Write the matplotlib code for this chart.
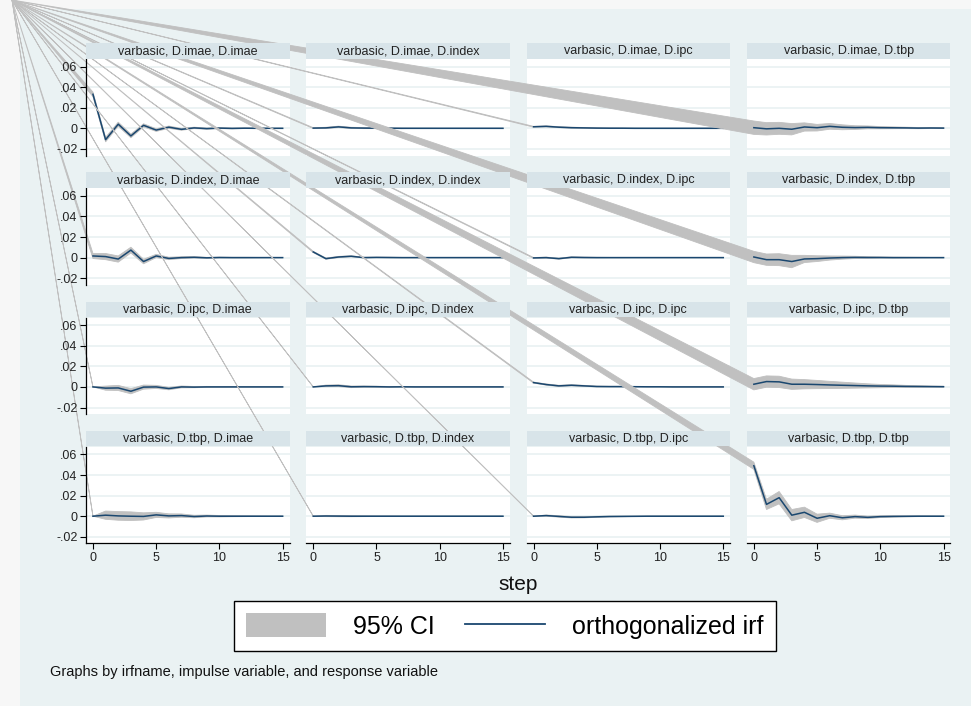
import matplotlib
matplotlib.use('Agg')
import matplotlib.pyplot as plt
from matplotlib.patches import Patch, Rectangle
from matplotlib.lines import Line2D
import numpy as np

plt.rcParams['font.family'] = ['Liberation Sans', 'DejaVu Sans']

# steps and variable names (impulse = row, response = column)
steps = np.arange(16)
variables = ['D.imae', 'D.index', 'D.ipc', 'D.tbp']
irfname = 'varbasic'

# orthogonalized irf
irf_imae_imae = [0.0330, -0.0110, 0.0040, -0.0074, 0.0029, -0.0017, 0.0011, -0.0010, 0.0004, -0.0003, 0.0002, -0.0001, 0.0001, 0.0, 0.0, 0.0]
irf_imae_index = [0.0002, 0.0004, 0.0014, 0.0004, 0.0002, 0.0001, 0.0001, 0.0, 0.0, 0.0, 0.0, 0.0, 0.0, 0.0, 0.0, 0.0]
irf_imae_ipc = [0.0015, 0.0019, 0.0011, 0.0006, 0.0004, 0.0002, 0.0001, 0.0001, 0.0, 0.0, 0.0, 0.0, 0.0, 0.0, 0.0, 0.0]
irf_imae_tbp = [0.0006, -0.0005, 0.0000, -0.0009, 0.0013, 0.0006, 0.0019, 0.0010, 0.0007, 0.0009, 0.0006, 0.0005, 0.0004, 0.0002, 0.0003, 0.0002]

irf_index_imae = [0.0016, 0.0010, -0.0014, 0.0073, -0.0038, 0.0016, -0.0008, 0.0000, 0.0003, -0.0002, 0.0001, 0.0, 0.0, 0.0, 0.0, 0.0]
irf_index_index = [0.0055, -0.0010, 0.0006, 0.0013, 0.0000, 0.0002, 0.0001, 0.0, 0.0, 0.0, 0.0, 0.0, 0.0, 0.0, 0.0, 0.0]
irf_index_ipc = [-0.0003, 0.0000, -0.0010, 0.0003, 0.0001, 0.0, 0.0, 0.0, 0.0, 0.0, 0.0, 0.0, 0.0, 0.0, 0.0, 0.0]
irf_index_tbp = [0.0006, -0.0020, -0.0020, -0.0038, -0.0013, -0.0010, -0.0004, 0.0000, 0.0002, 0.0001, 0.0001, 0.0, 0.0, 0.0, 0.0, 0.0]

irf_ipc_imae = [0.0000, -0.0012, -0.0010, -0.0042, -0.0002, 0.0000, -0.0016, 0.0000, -0.0002, 0.0, 0.0, 0.0, 0.0, 0.0, 0.0, 0.0]
irf_ipc_index = [0.0000, 0.0010, 0.0012, 0.0001, 0.0003, 0.0002, 0.0000, 0.0001, 0.0, 0.0, 0.0, 0.0, 0.0, 0.0, 0.0, 0.0]
irf_ipc_ipc = [0.0042, 0.0023, 0.0010, 0.0016, 0.0010, 0.0004, 0.0003, 0.0003, 0.0002, 0.0001, 0.0001, 0.0, 0.0, 0.0, 0.0, 0.0]
irf_ipc_tbp = [0.0026, 0.0052, 0.0049, 0.0026, 0.0026, 0.0023, 0.0019, 0.0016, 0.0013, 0.0010, 0.0008, 0.0007, 0.0005, 0.0004, 0.0003, 0.0002]

irf_tbp_imae = [0.0000, 0.0010, 0.0003, 0.0000, -0.0002, 0.0013, 0.0003, 0.0006, -0.0003, 0.0002, 0.0, 0.0, 0.0, 0.0, 0.0, 0.0]
irf_tbp_index = [0.0000, 0.0002, 0.0001, 0.0, 0.0, 0.0, 0.0, 0.0, 0.0, 0.0, 0.0, 0.0, 0.0, 0.0, 0.0, 0.0]
irf_tbp_ipc = [0.0000, 0.0006, -0.0002, -0.0010, -0.0010, -0.0006, -0.0003, -0.0002, -0.0001, 0.0, 0.0, 0.0, 0.0, 0.0, 0.0, 0.0]
irf_tbp_tbp = [0.0490, 0.0115, 0.0180, 0.0010, 0.0038, -0.0020, 0.0005, -0.0015, -0.0004, -0.0011, -0.0004, -0.0002, -0.0001, 0.0, 0.0, 0.0]

# half width of the 95% CI
ci_imae_imae = [0.0022, 0.0022, 0.0020, 0.0018, 0.0015, 0.0013, 0.0011, 0.0009, 0.0007, 0.0006, 0.0005, 0.0004, 0.0003, 0.0003, 0.0002, 0.0002]
ci_imae_index = [0.0004, 0.0006, 0.0007, 0.0006, 0.0005, 0.0004, 0.0003, 0.0003, 0.0002, 0.0002, 0.0001, 0.0001, 0.0001, 0.0001, 0.0001, 0.0001]
ci_imae_ipc = [0.0004, 0.0005, 0.0005, 0.0005, 0.0004, 0.0003, 0.0003, 0.0002, 0.0002, 0.0001, 0.0001, 0.0001, 0.0001, 0.0001, 0.0001, 0.0001]
ci_imae_tbp = [0.0065, 0.0060, 0.0058, 0.0055, 0.0040, 0.0032, 0.0028, 0.0024, 0.0018, 0.0014, 0.0011, 0.0009, 0.0007, 0.0006, 0.0005, 0.0004]

ci_index_imae = [0.0025, 0.0030, 0.0030, 0.0028, 0.0022, 0.0016, 0.0012, 0.0009, 0.0007, 0.0005, 0.0004, 0.0003, 0.0003, 0.0002, 0.0002, 0.0001]
ci_index_index = [0.0006, 0.0006, 0.0006, 0.0005, 0.0004, 0.0003, 0.0003, 0.0002, 0.0002, 0.0001, 0.0001, 0.0001, 0.0001, 0.0001, 0.0001, 0.0001]
ci_index_ipc = [0.0004, 0.0005, 0.0005, 0.0005, 0.0004, 0.0003, 0.0002, 0.0002, 0.0001, 0.0001, 0.0001, 0.0001, 0.0001, 0.0001, 0.0001, 0.0001]
ci_index_tbp = [0.0055, 0.0055, 0.0058, 0.0060, 0.0035, 0.0028, 0.0020, 0.0015, 0.0011, 0.0008, 0.0006, 0.0005, 0.0004, 0.0003, 0.0002, 0.0002]

ci_ipc_imae = [0.0000, 0.0020, 0.0025, 0.0025, 0.0020, 0.0015, 0.0012, 0.0009, 0.0006, 0.0005, 0.0004, 0.0003, 0.0002, 0.0002, 0.0001, 0.0001]
ci_ipc_index = [0.0000, 0.0008, 0.0009, 0.0008, 0.0006, 0.0005, 0.0004, 0.0003, 0.0002, 0.0002, 0.0001, 0.0001, 0.0001, 0.0001, 0.0001, 0.0001]
ci_ipc_ipc = [0.0005, 0.0006, 0.0006, 0.0006, 0.0005, 0.0004, 0.0003, 0.0003, 0.0002, 0.0002, 0.0001, 0.0001, 0.0001, 0.0001, 0.0001, 0.0001]
ci_ipc_tbp = [0.0055, 0.0055, 0.0055, 0.0050, 0.0045, 0.0040, 0.0035, 0.0030, 0.0025, 0.0020, 0.0016, 0.0013, 0.0010, 0.0008, 0.0006, 0.0005]

ci_tbp_imae = [0.0000, 0.0040, 0.0042, 0.0042, 0.0035, 0.0025, 0.0020, 0.0016, 0.0012, 0.0009, 0.0007, 0.0005, 0.0004, 0.0003, 0.0002, 0.0002]
ci_tbp_index = [0.0000, 0.0006, 0.0006, 0.0005, 0.0004, 0.0003, 0.0003, 0.0002, 0.0002, 0.0001, 0.0001, 0.0001, 0.0001, 0.0001, 0.0001, 0.0001]
ci_tbp_ipc = [0.0000, 0.0006, 0.0007, 0.0007, 0.0006, 0.0005, 0.0004, 0.0003, 0.0002, 0.0002, 0.0001, 0.0001, 0.0001, 0.0001, 0.0001, 0.0001]
ci_tbp_tbp = [0.0035, 0.0050, 0.0060, 0.0055, 0.0050, 0.0040, 0.0025, 0.0020, 0.0015, 0.0012, 0.0009, 0.0007, 0.0005, 0.0004, 0.0003, 0.0002]

irfs = [
    [irf_imae_imae, irf_imae_index, irf_imae_ipc, irf_imae_tbp],
    [irf_index_imae, irf_index_index, irf_index_ipc, irf_index_tbp],
    [irf_ipc_imae, irf_ipc_index, irf_ipc_ipc, irf_ipc_tbp],
    [irf_tbp_imae, irf_tbp_index, irf_tbp_ipc, irf_tbp_tbp],
]
cis = [
    [ci_imae_imae, ci_imae_index, ci_imae_ipc, ci_imae_tbp],
    [ci_index_imae, ci_index_index, ci_index_ipc, ci_index_tbp],
    [ci_ipc_imae, ci_ipc_index, ci_ipc_ipc, ci_ipc_tbp],
    [ci_tbp_imae, ci_tbp_index, ci_tbp_ipc, ci_tbp_tbp],
]

yticks = [-0.02, 0, 0.02, 0.04, 0.06]
yticklabels = ['-.02', '0', '.02', '.04', '.06']
xticks = [0, 5, 10, 15]

# stata s2color look
BG = '#eaf2f3'
STRIP = '#d8e4e9'
CI_COL = '#c0c0c0'
LINE_COL = '#1a476f'

W, H = 971, 706
XLIM = (-0.55, 15.54)
YLIM = (-0.0264, 0.0673)


def fx(px):
    return px / W


def fy(py):
    return 1 - py / H


fig = plt.figure(figsize=(W / 100, H / 100), dpi=100, facecolor='#f7f7f7')
fig.patches.append(Rectangle((fx(20), 0), 1 - fx(20), fy(9), transform=fig.transFigure,
                             facecolor=BG, edgecolor='none', zorder=-1))

# the area polygons all start from the top-left corner (export glitch)
corner = fig.transFigure.transform((fx(12), fy(0)))

for r in range(4):
    for c in range(4):
        left = 86 + 220.3 * c
        top = 43 + 129.3 * r
        pw = 203.5
        rect = [fx(left), fy(top + 112.5), pw / W, 96.5 / H]

        # data panel
        ax = fig.add_axes(rect)
        ax.set_xlim(*XLIM)
        ax.set_ylim(*YLIM)
        ax.set_facecolor('white')
        ax.set_yticks(yticks)
        ax.set_xticks(xticks)
        ax.grid(axis='y', color=BG, lw=1.3)
        ax.set_axisbelow(True)
        ax.tick_params(left=False, bottom=False, labelleft=False, labelbottom=False)
        for s in ax.spines.values():
            s.set_visible(False)

        y = np.array(irfs[r][c])
        h = np.array(cis[r][c])
        lo, hi = y - h, y + h
        cx, cy = ax.transData.inverted().transform(corner)
        xs = np.concatenate([[cx], steps, steps[::-1], [cx]])
        ys = np.concatenate([[cy], lo, hi[::-1], [cy]])
        ax.fill(xs, ys, color=CI_COL, lw=0.6, clip_on=False, zorder=2)
        ax.plot(steps, y, color=LINE_COL, lw=1.1, zorder=3)

        # axes drawn over the data of all panels
        dax = fig.add_axes(rect, zorder=5)
        dax.patch.set_visible(False)
        dax.set_xlim(*XLIM)
        dax.set_ylim(*YLIM)
        dax.set_yticks(yticks)
        dax.set_xticks(xticks)
        for s in dax.spines.values():
            s.set_visible(False)
        if c == 0:
            dax.spines['left'].set_visible(True)
            dax.spines['left'].set_linewidth(0.9)
            dax.set_yticklabels(yticklabels)
            dax.tick_params(axis='y', length=4, width=0.8, pad=2, labelsize=9, labelcolor='#222222')
        else:
            dax.tick_params(axis='y', left=False, labelleft=False)
        if r == 3:
            dax.spines['bottom'].set_visible(True)
            dax.spines['bottom'].set_linewidth(0.9)
            dax.tick_params(axis='x', length=4, width=0.8, pad=2, labelsize=9, labelcolor='#222222')
        else:
            dax.tick_params(axis='x', bottom=False, labelbottom=False)

        # subtitle strip
        sax = fig.add_axes([fx(left), fy(top + 15.5), pw / W, 15.5 / H], zorder=10)
        sax.set_facecolor(STRIP)
        sax.set_xticks([])
        sax.set_yticks([])
        for s in sax.spines.values():
            s.set_visible(False)
        sax.text(0.5, 0.48, f'{irfname}, {variables[r]}, {variables[c]}',
                 ha='center', va='center', fontsize=9, color='#222222')

fig.text(fx(518), fy(585), 'step', ha='center', va='center', fontsize=15, color='#111111')

handles = [Patch(facecolor=CI_COL, edgecolor='none', label='95% CI'),
           Line2D([], [], color=LINE_COL, lw=1.3, label='orthogonalized irf')]
leg = fig.legend(handles=handles, loc='center', bbox_to_anchor=(fx(505), fy(626)), ncol=2,
                 fontsize=18, frameon=True, fancybox=False, edgecolor='black', facecolor='white',
                 framealpha=1, handlelength=3.2, handleheight=1.05, handletextpad=1.08,
                 columnspacing=1.2, borderpad=0.5)
leg.get_frame().set_linewidth(1.0)

fig.text(fx(50), fy(672), 'Graphs by irfname, impulse variable, and response variable',
         ha='left', va='center', fontsize=10.5, color='#111111')

fig.savefig('out.png', dpi=100, facecolor=fig.get_facecolor())
